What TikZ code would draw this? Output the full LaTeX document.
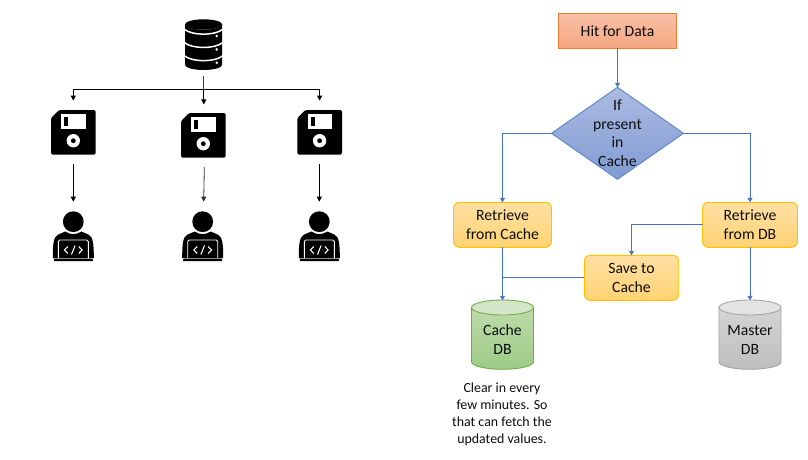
\documentclass[tikz,border=0pt]{standalone}
\usepackage{fontspec}
\setmainfont{Carlito}
\usetikzlibrary{arrows.meta,shapes.geometric}
\definecolor{flow}{HTML}{4472C4}
\definecolor{hitline}{HTML}{ED7D31}\definecolor{hittop}{HTML}{F8C0A6}\definecolor{hitbot}{HTML}{F4A680}
\definecolor{decline}{HTML}{5B84CC}\definecolor{dectop}{HTML}{ACBBE1}\definecolor{decbot}{HTML}{809BD3}
\definecolor{stepline}{HTML}{FFC000}\definecolor{steptop}{HTML}{FFE0A3}\definecolor{stepbot}{HTML}{FFD373}
\definecolor{greentop}{HTML}{BEDBAA}\definecolor{greenbot}{HTML}{9DCB86}\definecolor{greenlid}{HTML}{D4E6C7}\definecolor{greenline}{HTML}{70AD47}
\definecolor{greytop}{HTML}{D4D4D4}\definecolor{greybot}{HTML}{BEBEBE}\definecolor{greylid}{HTML}{E3E3E3}\definecolor{greyline}{HTML}{A5A5A5}
\tikzset{
  x=1pt,y=-1pt,
  flowline/.style={draw=flow,line width=0.9pt},
  flowarrow/.style={flowline,-{Triangle[length=4.5pt,width=5pt]}},
  iconarrow/.style={draw=black,line width=0.8pt,-{Triangle[length=5pt,width=5pt]}},
  iconline/.style={draw=black!75,line width=0.8pt},
  boxtext/.style={align=center,text=black!95,font=\fontsize{15.7}{19}\selectfont,inner sep=0pt,outer sep=0pt},
  anchorbox/.style={inner sep=0pt,outer sep=0pt},
  hitbox/.style={boxtext,rectangle,draw=hitline,line width=0.9pt,top color=hittop,bottom color=hitbot,minimum width=118pt,minimum height=35pt},
  decbox/.style={boxtext,diamond,draw=decline,line width=0.9pt,top color=dectop,bottom color=decbot,minimum width=132pt,minimum height=92pt},
  stepbox/.style={boxtext,rectangle,rounded corners=6pt,draw=stepline,line width=0.9pt,top color=steptop,bottom color=stepbot,minimum height=45pt},
  cylbox/.style={anchorbox,minimum width=62pt,minimum height=69pt}
}
% body colours: #1 top, #2 bottom, #3 lid, #4 border, #5 centre x
\newcommand{\cyl}[5]{
  \path[top color=#1,bottom color=#2] (#5-31,307.5) arc[x radius=31,y radius=7.5,start angle=180,end angle=0] -- (#5+31,361.8) arc[x radius=31,y radius=7.5,start angle=0,end angle=180] -- cycle;
  \draw[#4,line width=0.9pt] (#5-31,307.5) -- (#5-31,361.8) arc[x radius=31,y radius=7.5,start angle=180,end angle=0] -- (#5+31,307.5);
  \draw[#4,fill=#3,line width=0.9pt] (#5,307.5) ellipse[x radius=31,y radius=7.5];
}
% floppy: #1 left, #2 top
\newcommand{\floppy}[2]{
  \begin{scope}[shift={(#1,#2)}]
    \fill[black,rounded corners=1.5pt] (8,0) -- (44.7,0) -- (44.7,44.7) -- (0,44.7) -- (0,8) -- cycle;
    \fill[white] (10.3,4) rectangle (34.7,18.7);
    \fill[black] (13.3,6.7) rectangle (17.3,16);
    \fill[white] (22.3,30.7) circle[radius=6.7];
    \fill[black] (22.3,30.7) circle[radius=2.4];
  \end{scope}
}
% developer: #1 centre x
\newcommand{\coder}[1]{
  \begin{scope}[shift={(#1,0)}]
    \fill[black] (0,221.7) circle[radius=10.4];
    \fill[black] (-20.5,258) .. controls (-20.5,245) and (-20,236.5) .. (-15,234.5) -- (-8,231.5) .. controls (-3,235) and (3,235) .. (8,231.5) -- (15,234.5) .. controls (20,236.5) and (20.5,245) .. (20.5,258) -- cycle;
    \draw[white,line width=0.9pt,rounded corners=1.5pt] (-15,258.5) -- (-15,240) -- (15,240) -- (15,258.5);
    \fill[black,rounded corners=0.7pt] (-19.5,258.6) rectangle (19.5,261.2);
    \draw[white,line width=1.1pt] (-5.5,246.5) -- (-8.8,250) -- (-5.5,253.5);
    \draw[white,line width=1.1pt] (5.5,246.5) -- (8.8,250) -- (5.5,253.5);
    \draw[white,line width=1.1pt] (1.8,245.5) -- (-1.8,254.5);
  \end{scope}
}
\begin{document}
\begin{tikzpicture}
\useasboundingbox (0,0) rectangle (808,460);
\fill[white] (0,0) rectangle (808,460);

% database icon
\fill[black] (185,24.5) arc[x radius=18.6,y radius=5.2,start angle=180,end angle=0] -- (222.2,64.8) arc[x radius=18.6,y radius=5.2,start angle=0,end angle=180] -- cycle;
\fill[black] (203.6,24.5) ellipse[x radius=18.6,y radius=5.2];
\foreach \yy in {29.3,42.6,55.8}{
  \draw[white,line width=1.5pt] (184.5,\yy) .. controls (192,\yy+6.5) and (215,\yy+6.5) .. (222.7,\yy);
}
\foreach \yy in {36,49.4,62.7}{\fill[white] (216.7,\yy) circle[radius=1.4];}
\node[anchorbox,minimum width=37pt,minimum height=57pt] (db) at (203.6,47.5) {};

% floppies
\floppy{51}{110}\floppy{181}{113}\floppy{297.3}{110}
\node[anchorbox,minimum width=44.7pt,minimum height=44.7pt] (fa) at (73.3,132.3) {};
\node[anchorbox,minimum width=44.7pt,minimum height=44.7pt] (fb) at (204.5,135.3) {};
\node[anchorbox,minimum width=44.7pt,minimum height=44.7pt] (fc) at (319.6,132.3) {};

% developers
\coder{73.3}\coder{202.7}\coder{319.3}
\node[anchorbox,minimum width=41pt,minimum height=50pt] (ca) at (73.3,236) {};
\node[anchorbox,minimum width=41pt,minimum height=50pt] (cb) at (203.5,236) {};
\node[anchorbox,minimum width=41pt,minimum height=50pt] (cc) at (319.3,236) {};

% left connectors
\coordinate (split) at (203.8,89);
\draw[iconarrow,shorten >=8.5pt] (split) -- (fb.north -| split);
\draw[iconline] (db.south -| split) -- (split);
\draw[iconarrow,shorten >=9.3pt] (split) -| (fa.north);
\draw[iconarrow,shorten >=9.3pt] (split) -| (fc.north);
\draw[iconarrow,shorten <=9.3pt,shorten >=9.3pt] (fa.south) -- (ca.north);
\draw[iconarrow,shorten <=9.3pt,shorten >=9.3pt,draw=black!80] (fb.south) -- (cb.north);
\draw[iconarrow,shorten <=9.3pt,shorten >=9.3pt] (fc.south-|cc.north) -- (cc.north);

% flowchart
\node[hitbox] (hit) at (617.5,31) {Hit for Data};
\node[decbox] (dec) at (617.5,133.3) {};
\node[boxtext,font=\fontsize{15.7}{18.5}\selectfont] (dectext) at (617.5,133.3) {If\\present\\in\\Cache};
\node[stepbox,minimum width=98pt] (rc) at (502.5,224.8) {Retrieve\\from Cache};
\node[stepbox,minimum width=95pt] (rd) at (750,224.8) {Retrieve\\from DB};
\node[stepbox,minimum width=94.4pt] (sv) at (631.5,277.8) {\raisebox{-0.6pt}{Save to}\\\raisebox{-0.6pt}{Cache}};
\cyl{greentop}{greenbot}{greenlid}{greenline}{502.5}
\cyl{greytop}{greybot}{greylid}{greyline}{750}
\node[cylbox] (cdb) at (502.5,334.8) {};
\node[cylbox] (mdb) at (750,334.8) {};
\node[boxtext] (cdbtext) at (502.5,339.8) {Cache\\DB};
\node[boxtext] (mdbtext) at (750,339.8) {Master\\DB};
\node[boxtext,font=\fontsize{13.9}{17}\selectfont] (note) at (502,414.5) {Clear in every\\few minutes. So\\that can fetch the\\updated values.};

\draw[flowarrow] (hit.south) -- (dec.north);
\draw[flowarrow] (dec.west) -| (rc.north);
\draw[flowarrow] (dec.east) -| (rd.north);
\draw[flowarrow] (rc.south) -- (cdb.north);
\draw[flowarrow] (rd.south) -- (mdb.north);
\draw[flowarrow] (rd.west) -| (sv.north);
\draw[flowline] (sv.west) -- (sv.west -| rc.south);
\end{tikzpicture}
\end{document}
